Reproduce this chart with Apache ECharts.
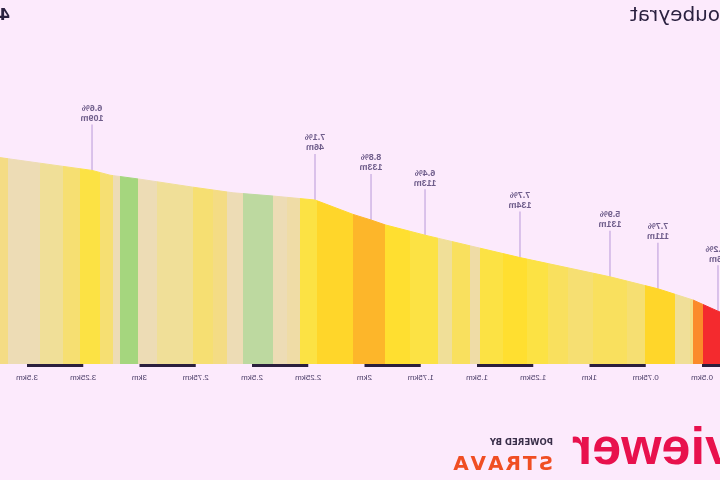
<!DOCTYPE html>
<html>
<head>
<meta charset="utf-8">
<script src="https://cdn.jsdelivr.net/npm/echarts@6/dist/echarts.min.js"></script>
<style>
    html, body { margin: 0; padding: 0; background: #fceafc; }
    /* the reference is a mirrored picture, so the whole chart is flipped */
    #chart { width: 720px; height: 480px; transform: scaleX(-1); }
</style>
</head>
<body>
<div id="chart"></div>
<script>
    // gradient bands along the climb (km edges, one grade per band)
    const bandEdgesKm = [0.40, 0.496, 0.540, 0.553, 0.620, 0.753, 0.833, 0.984, 1.096, 1.184, 1.278, 1.384,
        1.487, 1.531, 1.611, 1.673, 1.798, 1.909, 2.051, 2.211, 2.287, 2.344, 2.407, 2.540, 2.611, 2.673,
        2.762, 2.922, 3.007, 3.087, 3.118, 3.176, 3.264, 3.340, 3.442, 3.584, 3.65]
    const bandGrade = [11, 9.5, 5, 4.5, 7.5, 5.5, 6, 5.5, 6, 6.5, 7, 6.5,
        4, 6, 4.5, 6.5, 7, 8.5, 7.5, 6.5, 4, 3.5, 2.5, 3.5, 5,
        5.5, 4.5, 3.5, 1.5, 3.5, 5.5, 6.5, 5.5, 4.5, 3.5, 5]

    // elevation profile
    const profileKm = [0.40, 0.42, 0.429, 0.54, 0.696, 0.909, 1.309, 1.731, 1.909, 1.971, 2.051, 2.22,
        2.407, 2.584, 2.762, 2.998, 3.131, 3.211, 3.442, 3.62, 3.65]
    const profileElev = [1063, 1065, 1066, 1080, 1094, 1109, 1133, 1161, 1174, 1180, 1187, 1205,
        1210, 1214, 1221, 1231, 1236, 1242, 1251, 1258, 1259]

    // steep section call-outs
    const steepKm = [0.429, 0.696, 0.909, 1.309, 1.731, 1.971, 2.22, 3.211]
    const steepElev = [1066, 1094, 1109, 1133, 1161, 1180, 1205, 1242]
    const steepGrade = ['11.2', '7.7', '5.9', '7.7', '6.4', '8.8', '7.1', '6.6']
    const steepLen = [96, 111, 131, 134, 113, 133, 46, 109]

    // distance ruler
    const tickKm = [0.5, 0.75, 1, 1.25, 1.5, 1.75, 2, 2.25, 2.5, 2.75, 3, 3.25, 3.5]
    const rulerStartKm = [0.25, 0.75, 1.25, 1.75, 2.25, 2.75, 3.25]
    const rulerEndKm = [0.5, 1.0, 1.5, 2.0, 2.5, 3.0, 3.5]

    const yMin = 1000
    const yMax = 1405

    function gradeColor (g) {
        if (g < 2) return '#a5d67e'
        if (g < 3) return '#bdd9a0'
        if (g < 3.75) return '#eddcb5'
        if (g < 4.25) return '#efdca6'
        if (g < 4.75) return '#f0df98'
        if (g < 5.25) return '#f4dc84'
        if (g < 5.75) return '#f6df72'
        if (g < 6.25) return '#f9e05e'
        if (g < 6.75) return '#fce244'
        if (g < 7.25) return '#ffdf30'
        if (g < 8) return '#ffd62a'
        if (g < 9) return '#fdb62a'
        if (g < 10) return '#fb8a2a'
        return '#f42a2e'
    }

    const pieces = bandGrade.map((g, i) => ({
        gte: bandEdgesKm[i],
        lt: bandEdgesKm[i + 1],
        color: gradeColor(g)
    }))

    const chart = echarts.init(document.getElementById('chart'))

    try {
        const option = {
            backgroundColor: '#fceafc',
            animation: false,
            grid: {
                left: 0,
                right: 0,
                top: 40,
                bottom: 116
            },
            xAxis: {
                type: 'value',
                min: 0.42,
                max: 3.62,
                axisLine: { show: false },
                axisTick: { show: false },
                splitLine: { show: false },
                axisLabel: {
                    customValues: tickKm,
                    formatter: v => v + 'km',
                    margin: 10,
                    fontSize: 8,
                    fontFamily: 'Liberation Sans',
                    color: '#4b3d68'
                }
            },
            yAxis: {
                type: 'value',
                min: yMin,
                max: yMax,
                show: false
            },
            visualMap: {
                show: false,
                type: 'piecewise',
                dimension: 0,
                seriesIndex: 0,
                pieces: pieces
            },
            graphic: [
                {
                    type: 'text', x: 90, y: 16,
                    style: { text: 'Coubeyrat', textAlign: 'right', textVerticalAlign: 'middle',
                        font: '20px "DejaVu Sans"', fill: '#2b2140' }
                },
                {
                    type: 'text', x: 710, y: 16,
                    style: { text: '4 km', textAlign: 'left', textVerticalAlign: 'middle',
                        font: 'bold 16px "DejaVu Sans"', fill: '#2b2140' }
                },
                {
                    type: 'text', x: 148, y: 450,
                    style: { text: 'veloviewer', textAlign: 'right', textVerticalAlign: 'middle',
                        font: 'bold 52px "Liberation Sans"', fill: '#e8114d' }
                },
                {
                    type: 'text', x: 167, y: 443,
                    style: { text: 'POWERED BY', textAlign: 'left', textVerticalAlign: 'middle',
                        font: 'bold 8.5px "DejaVu Sans"', fill: '#3a2f4a' }
                },
                {
                    type: 'text', x: 167, y: 465,
                    style: { text: 'S\u200aT\u200aR\u200aA\u200aV\u200aA', textAlign: 'left', textVerticalAlign: 'middle',
                        font: 'bold 20px "DejaVu Sans"', fill: '#f04e23' }
                }
            ],
            series: [
                {
                    type: 'line',
                    symbol: 'none',
                    silent: true,
                    lineStyle: { width: 1 },
                    areaStyle: { opacity: 1 },
                    data: profileKm.map((d, i) => [d, profileElev[i]])
                },
                {
                    type: 'scatter',
                    silent: true,
                    symbol: 'rect',
                    symbolSize: [1.5, 46],
                    symbolOffset: [0, -23],
                    itemStyle: { color: '#c3a6de' },
                    label: {
                        show: true,
                        position: 'top',
                        distance: 1,
                        fontSize: 9,
                        lineHeight: 10,
                        fontWeight: 'bold',
                        fontFamily: 'Liberation Sans',
                        color: '#4b3a6e',
                        formatter: p => p.data[2] + '%\n' + p.data[3] + 'm'
                    },
                    data: steepKm.map((d, i) => [d, steepElev[i], steepGrade[i], steepLen[i]])
                },
                {
                    type: 'custom',
                    silent: true,
                    clip: false,
                    renderItem: function (params, api) {
                        const a = api.coord([api.value(0), yMin])
                        const b = api.coord([api.value(1), yMin])
                        return {
                            type: 'rect',
                            shape: { x: a[0], y: a[1], width: b[0] - a[0], height: 3 },
                            style: { fill: '#2b1f3d' }
                        }
                    },
                    data: rulerStartKm.map((s, i) => [s, rulerEndKm[i]])
                }
            ]
        }
        chart.setOption(option)
    } catch (e) {
        console.log(e)
    }
</script>
</body>
</html>
